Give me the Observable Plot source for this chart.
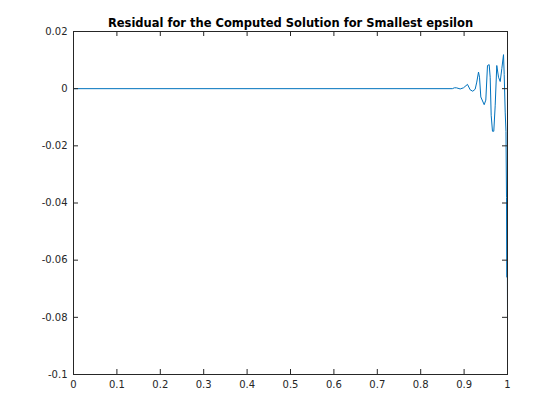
<!DOCTYPE html>
<html>
<head>
<meta charset="utf-8">
<script src="https://cdn.jsdelivr.net/npm/d3@7"></script>
<script src="https://cdn.jsdelivr.net/npm/@observablehq/plot@0.6"></script>
<style>
  html, body { margin: 0; padding: 0; background: #fff; }
  #chart svg { display: block; }
</style>
</head>
<body>
<div id="chart"></div>
<script>
const titleText = "Residual for the Computed Solution for Smallest epsilon";
const xTicks = [0, 0.1, 0.2, 0.3, 0.4, 0.5, 0.6, 0.7, 0.8, 0.9, 1];
const yTicks = [-0.1, -0.08, -0.06, -0.04, -0.02, 0, 0.02];
const xValues = [0, 0.873, 0.8776, 0.8823, 0.891, 0.8986, 0.9078, 0.914, 0.92, 0.9255, 0.9292, 0.9332, 0.9355, 0.9385, 0.9463, 0.95, 0.9539, 0.9578, 0.9601, 0.9624, 0.9654, 0.9684, 0.9716, 0.9753, 0.9793, 0.9832, 0.9869, 0.9908, 0.9924, 0.9947, 0.9965, 0.9977, 0.9988, 0.9993, 1.0];
const residual = [0, 0, 0.0003, 0.0003, -0.0001, 0.0003, 0.0015, -0.0004, -0.0009, -0.0002, 0.0023, 0.0058, 0.004, -0.0029, -0.0056, -0.004, 0.0081, 0.0084, 0.004, -0.0093, -0.0149, -0.0149, -0.006, 0.0081, 0.004, 0.0025, 0.007, 0.0119, 0.005, -0.0082, -0.015, -0.038, -0.066, -0.04, -0.08];

const data = xValues.map((x, i) => ({x, y: residual[i]}));

const W = 560, H = 420;
const mL = 73, mR = 53, mT = 31, mB = 46;
const frameW = W - mL - mR, frameH = H - mT - mB;
const tickLen = 5;
const axisColor = "#262626";
const fmt = d => String(+d.toFixed(2));

const chart = Plot.plot({
  width: W,
  height: H,
  marginLeft: mL,
  marginRight: mR,
  marginTop: mT,
  marginBottom: mB,
  style: {fontFamily: "DejaVu Sans", fontSize: "10px", color: axisColor, background: "#fff"},
  x: {domain: [0, 1]},
  y: {domain: [-0.1, 0.02]},
  marks: [
    Plot.line(data, {x: "x", y: "y", stroke: "#0072BD", strokeWidth: 1}),
    Plot.frame({stroke: axisColor, strokeWidth: 1}),
    Plot.ruleX(xTicks, {x: d => d, insetTop: frameH - tickLen, stroke: axisColor}),
    Plot.ruleX(xTicks, {x: d => d, insetBottom: frameH - tickLen, stroke: axisColor}),
    Plot.ruleY(yTicks, {y: d => d, insetRight: frameW - tickLen, stroke: axisColor}),
    Plot.ruleY(yTicks, {y: d => d, insetLeft: frameW - tickLen, stroke: axisColor}),
    Plot.axisX(xTicks, {tickSize: 0, tickPadding: 6, tickFormat: fmt, label: null, fill: axisColor}),
    Plot.axisY(yTicks, {tickSize: 0, tickPadding: 6, tickFormat: fmt, label: null, fill: axisColor}),
    Plot.text([titleText], {text: d => d, frameAnchor: "top", lineAnchor: "bottom", dy: -5, fontWeight: "bold", fontSize: 11.5, fill: "#000"})
  ]
});
document.getElementById("chart").append(chart);
</script>
</body>
</html>
